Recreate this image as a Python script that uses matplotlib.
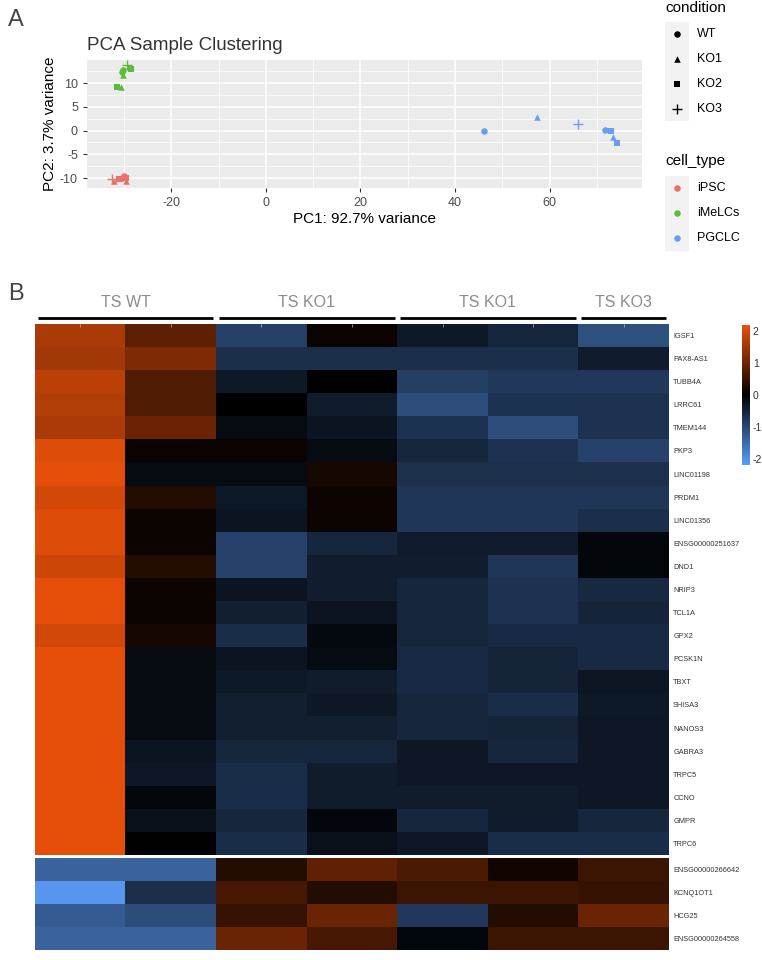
import numpy as np
import matplotlib
matplotlib.use("Agg")
import matplotlib.pyplot as plt
from matplotlib.colors import LinearSegmentedColormap
from matplotlib.transforms import blended_transform_factory
from matplotlib.ticker import MultipleLocator

plt.rcParams["font.family"] = ["Liberation Sans", "DejaVu Sans"]
plt.rcParams["axes.unicode_minus"] = False

# ---- panel A: PCA ----
cell_types = ["iPSC", "iMeLCs", "PGCLC"]
type_colors = ["#E8716A", "#5DBA3A", "#6A9BF5"]
conditions = ["WT", "KO1", "KO2", "KO3"]
cond_markers = ["o", "^", "s", "+"]

sample_type = ["iPSC"] * 7 + ["iMeLCs"] * 7 + ["PGCLC"] * 7
sample_cond = ["WT", "WT", "KO1", "KO1", "KO2", "KO2", "KO3"] * 3
pc1 = [-30.0, -30.3, -32.1, -29.6, -31.0, -29.5, -32.6,
       -30.1, -30.3, -30.1, -30.6, -28.6, -31.4, -29.3,
       46.1, 71.6, 57.3, 73.4, 73.0, 74.3, 66.0]
pc2 = [-9.6, -10.0, -10.7, -10.6, -10.2, -10.0, -10.1,
       12.7, 12.4, 11.6, 9.2, 12.9, 9.1, 13.9,
       0.0, 0.1, 2.8, -1.4, -0.2, -2.7, 1.4]

# ---- panel B: heatmap ----
genes_top = ["IGSF1", "PAX8-AS1", "TUBB4A", "LRRC61", "TMEM144", "PKP3",
             "LINC01198", "PRDM1", "LINC01356", "ENSG00000251637", "DND1",
             "NRIP3", "TCL1A", "GPX2", "PCSK1N", "TBXT", "SHISA3", "NANOS3",
             "GABRA3", "TRPC5", "CCNO", "GMPR", "TRPC6"]
genes_bottom = ["ENSG00000266642", "KCNQ1OT1", "HCG25", "ENSG00000264558"]
group_names = ["TS WT", "TS KO1", "TS KO1", "TS KO3"]
group_sizes = [2, 2, 2, 1]

z_top = [
    [1.60, 0.88, -0.90, 0.10, -0.36, -0.52, -1.12],
    [1.54, 1.20, -0.66, -0.66, -0.66, -0.66, -0.38],
    [1.76, 0.75, -0.36, 0.00, -0.88, -0.80, -0.80],
    [1.67, 0.77, 0.00, -0.38, -1.10, -0.72, -0.72],
    [1.60, 1.00, -0.16, -0.28, -0.72, -1.10, -0.72],
    [2.09, 0.10, 0.10, -0.16, -0.55, -0.72, -0.94],
    [2.15, -0.16, -0.16, 0.22, -0.68, -0.68, -0.68],
    [1.98, 0.33, -0.36, 0.13, -0.77, -0.77, -0.77],
    [2.10, 0.11, -0.28, 0.11, -0.77, -0.77, -0.66],
    [2.10, 0.11, -0.94, -0.55, -0.38, -0.38, -0.10],
    [1.93, 0.33, -0.94, -0.42, -0.42, -0.77, -0.10],
    [2.15, 0.11, -0.28, -0.42, -0.55, -0.72, -0.57],
    [2.15, 0.11, -0.44, -0.28, -0.55, -0.72, -0.50],
    [1.98, 0.22, -0.64, -0.13, -0.55, -0.60, -0.60],
    [2.15, -0.16, -0.28, -0.16, -0.60, -0.50, -0.60],
    [2.15, -0.16, -0.36, -0.38, -0.60, -0.50, -0.30],
    [2.15, -0.16, -0.44, -0.33, -0.55, -0.64, -0.35],
    [2.15, -0.16, -0.44, -0.44, -0.55, -0.50, -0.33],
    [2.15, -0.28, -0.55, -0.55, -0.33, -0.55, -0.33],
    [2.15, -0.33, -0.64, -0.38, -0.33, -0.33, -0.33],
    [2.15, -0.10, -0.64, -0.38, -0.38, -0.38, -0.33],
    [2.15, -0.24, -0.55, -0.10, -0.55, -0.38, -0.55],
    [2.15, -0.02, -0.64, -0.24, -0.33, -0.64, -0.64],
]
z_bottom = [
    [-1.40, -1.40, 0.33, 0.90, 0.72, 0.16, 0.55],
    [-2.10, -0.66, 0.66, 0.33, 0.55, 0.55, 0.50],
    [-1.29, -1.08, 0.50, 1.00, -0.80, 0.33, 1.00],
    [-1.40, -1.40, 1.00, 0.66, -0.10, 0.55, 0.55],
]
cbar_ticks = [2, 1, 0, -1, -2]

W, H = 762, 960
fig = plt.figure(figsize=(W / 100, H / 100), dpi=100)


def box(x0, y0, x1, y1):
    return [x0 / W, 1 - y1 / H, (x1 - x0) / W, (y1 - y0) / H]


# --- PCA ---
ax = fig.add_axes(box(87, 60, 642, 188))
ax.set_facecolor("#EBEBEB")
for ct, col in zip(cell_types, type_colors):
    for cond, mk in zip(conditions, cond_markers):
        idx = [i for i in range(len(pc1)) if sample_type[i] == ct and sample_cond[i] == cond]
        xs = [pc1[i] for i in idx]
        ys = [pc2[i] for i in idx]
        if mk == "+":
            ax.scatter(xs, ys, marker=mk, s=45, c=col, linewidths=1.0, zorder=3)
        else:
            ax.scatter(xs, ys, marker=mk, s=22, c=col, linewidths=0, zorder=3)
ax.set_xlim(-37.8, 79.5)
ax.set_ylim(-12.1, 14.85)
ax.xaxis.set_major_locator(MultipleLocator(20))
ax.xaxis.set_minor_locator(MultipleLocator(10))
ax.yaxis.set_major_locator(MultipleLocator(5))
ax.yaxis.set_minor_locator(MultipleLocator(2.5))
ax.grid(which="major", color="white", linewidth=1.1)
ax.grid(which="minor", color="white", linewidth=0.55)
ax.set_axisbelow(True)
for s in ax.spines.values():
    s.set_visible(False)
ax.tick_params(which="major", length=3, color="#333333", labelcolor="#4D4D4D", labelsize=9)
ax.tick_params(which="minor", length=0)
ax.set_xlabel("PC1: 92.7% variance", fontsize=11, color="black", labelpad=2)
ax.set_ylabel("PC2: 3.7% variance", fontsize=11, color="black", labelpad=2)
ax.set_title("PCA Sample Clustering", fontsize=13.5, color="#333333", loc="left", pad=7)

# --- heatmap ---
cmap = LinearSegmentedColormap.from_list("bko", ["#5B9CF8", "#000000", "#E8500A"])
vmin, vmax = -2.2, 2.2
ncol = len(z_top[0])

ax_top = fig.add_axes(box(35, 324, 669, 855))
ax_top.imshow(np.array(z_top), cmap=cmap, vmin=vmin, vmax=vmax, aspect="auto",
              interpolation="nearest")
ax_bot = fig.add_axes(box(35, 858, 669, 950))
ax_bot.imshow(np.array(z_bottom), cmap=cmap, vmin=vmin, vmax=vmax, aspect="auto",
              interpolation="nearest")

for a, genes in ((ax_top, genes_top), (ax_bot, genes_bottom)):
    for s in a.spines.values():
        s.set_visible(False)
    a.set_xticks([])
    a.yaxis.tick_right()
    a.set_yticks(range(len(genes)))
    a.set_yticklabels(genes, fontsize=5.3, color="#333333")
    a.tick_params(axis="y", length=0, pad=3)

# faint column ticks on top
ax_top.set_xticks(range(ncol))
ax_top.set_xticklabels([])
ax_top.tick_params(axis="x", top=True, bottom=False, length=2, width=0.5,
                   color="#BBBBBB", direction="in")

# group header lines and titles
trans = blended_transform_factory(ax_top.transData, ax_top.transAxes)
start = 0
for name, n in zip(group_names, group_sizes):
    x0, x1 = start - 0.5, start + n - 0.5
    ax_top.plot([x0 + 0.03, x1 - 0.03], [1.0113, 1.0113], color="black", lw=2,
                transform=trans, clip_on=False, solid_capstyle="butt")
    ax_top.text((x0 + x1) / 2, 1.041, name, transform=trans, ha="center", va="center",
                fontsize=11.5, color="#8C8C8C")
    start += n

# colorbar
cax = fig.add_axes(box(742, 325, 750, 465))
sm = plt.cm.ScalarMappable(cmap=cmap, norm=plt.Normalize(vmin, vmax))
cb = fig.colorbar(sm, cax=cax)
cb.outline.set_visible(False)
cb.set_ticks(cbar_ticks)
cb.ax.tick_params(length=0, labelsize=7.5, labelcolor="#333333", pad=2)

# --- overlay: panel letters and legends ---
ov = fig.add_axes([0, 0, 1, 1], facecolor="none")
ov.set_xlim(0, W)
ov.set_ylim(H, 0)
ov.axis("off")
ov.text(8, 20, "A", fontsize=17, color="#444444", va="center")
ov.text(8, 294, "B", fontsize=17, color="#444444", va="center")

ov.text(665, 8, "condition", fontsize=11, va="center")
ov.add_patch(plt.Rectangle((665, 22), 24, 99, color="#F2F2F2", lw=0))
for i, (cond, mk) in enumerate(zip(conditions, cond_markers)):
    y = 34 + i * 25
    if mk == "+":
        ov.scatter([677], [y], marker=mk, s=50, c="black", linewidths=1.0)
    else:
        ov.scatter([677], [y], marker=mk, s=22, c="black", linewidths=0)
    ov.text(697, y, cond, fontsize=9, va="center")

ov.text(665, 161, "cell_type", fontsize=11, va="center")
ov.add_patch(plt.Rectangle((665, 176), 24, 75, color="#F2F2F2", lw=0))
for i, (ct, col) in enumerate(zip(cell_types, type_colors)):
    y = 188 + i * 25
    ov.scatter([677], [y], marker="o", s=22, c=col, linewidths=0)
    ov.text(697, y, ct, fontsize=9, va="center")

fig.savefig("out.png", dpi=100)
